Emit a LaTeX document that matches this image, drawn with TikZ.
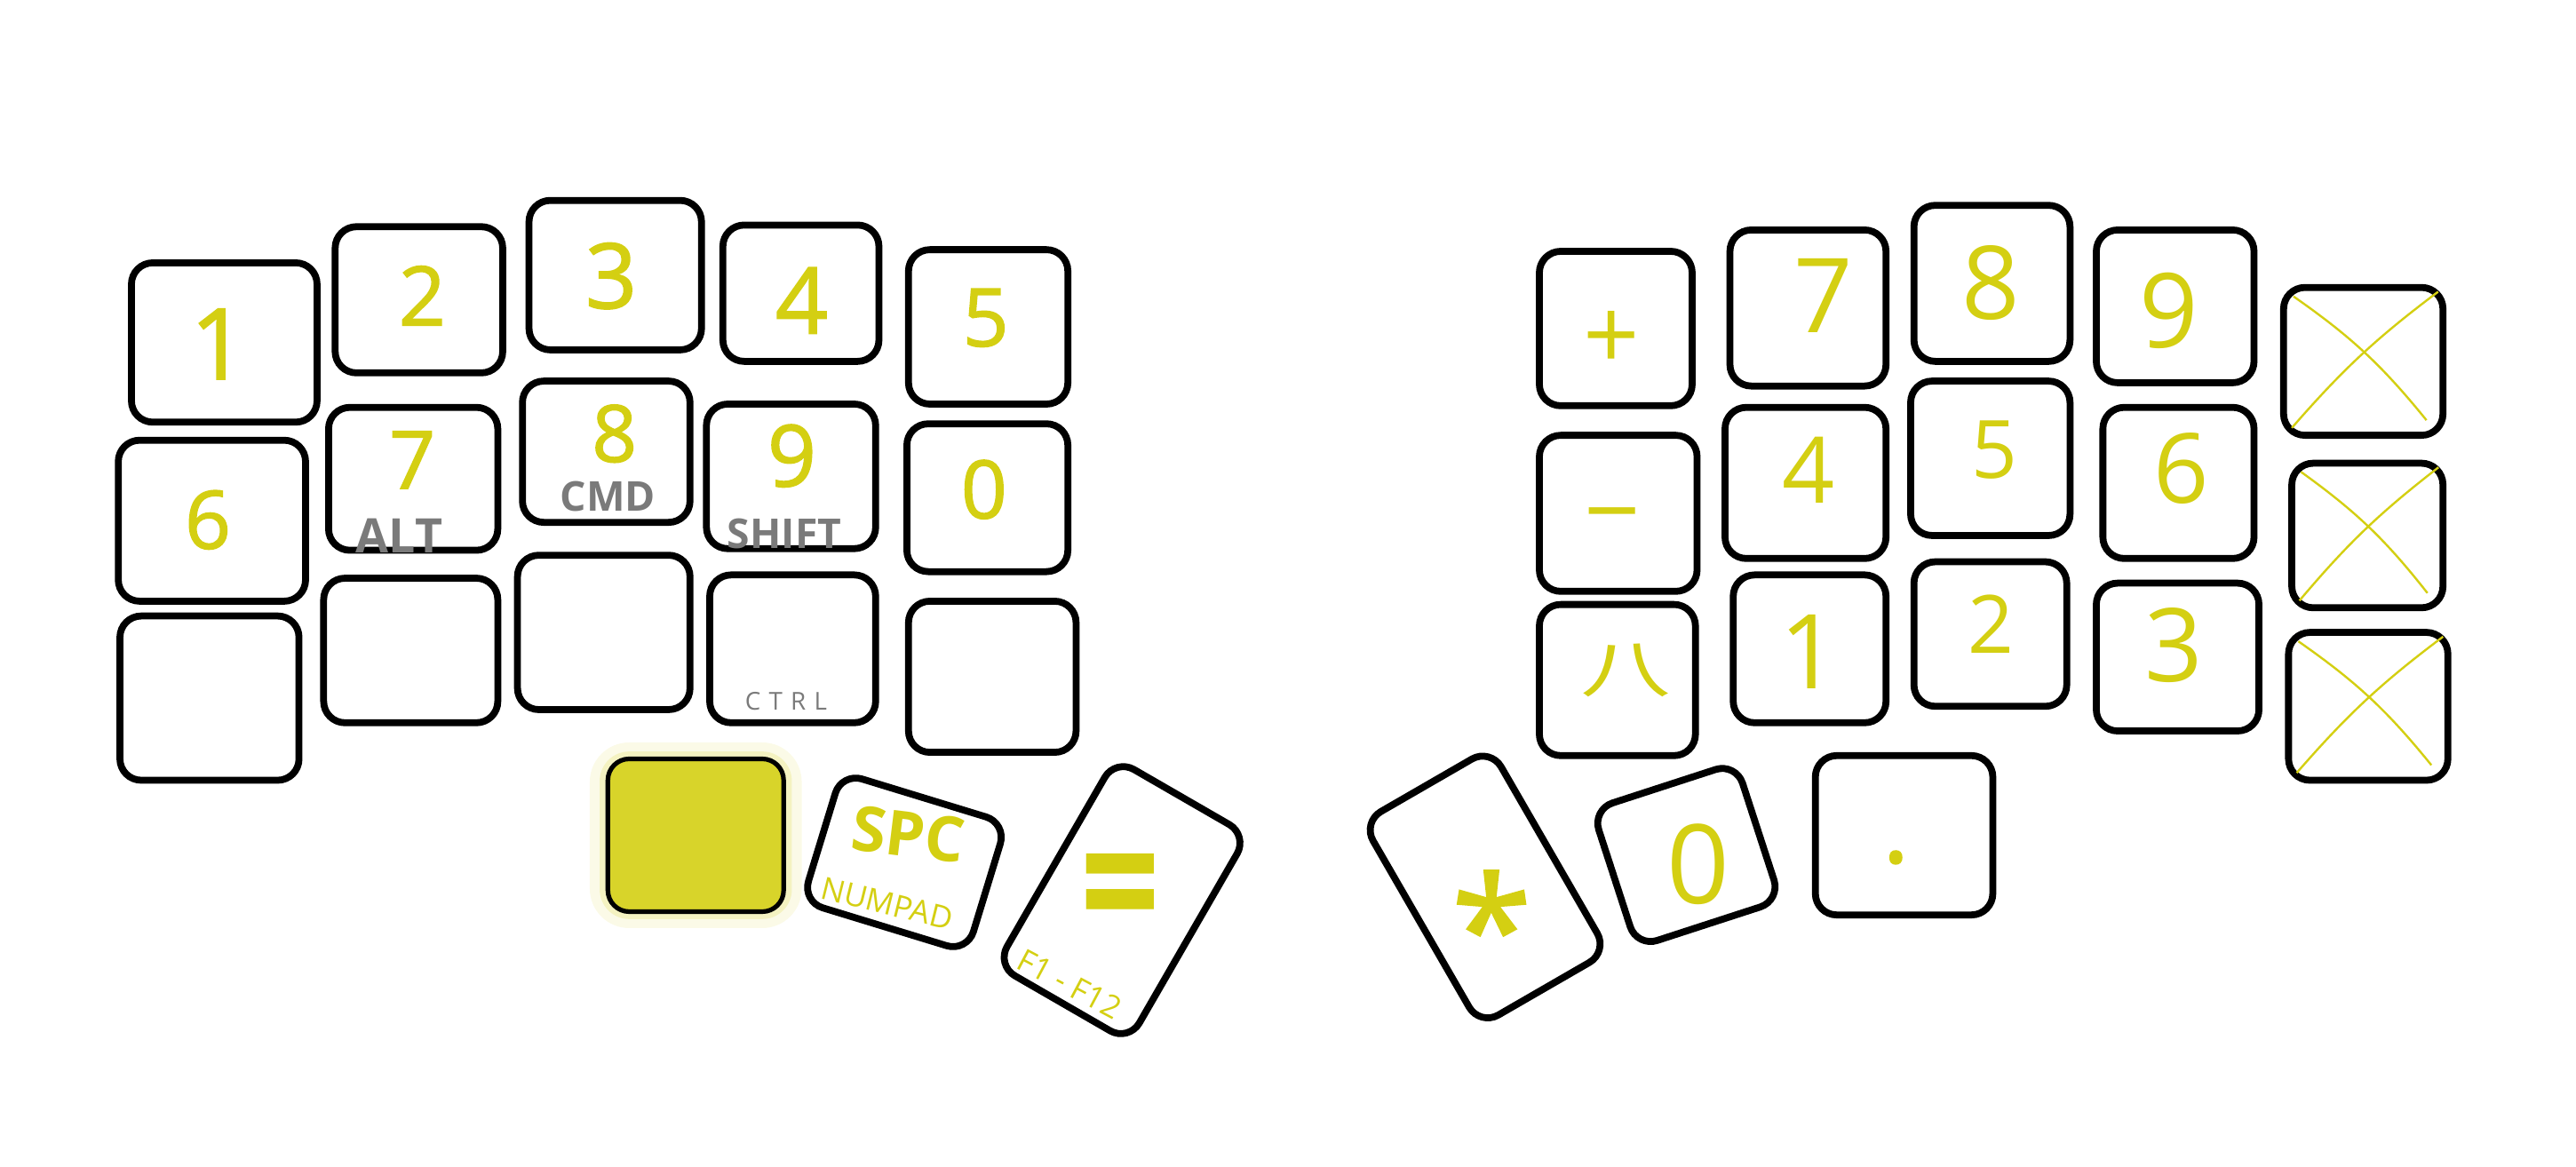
\documentclass[tikz,border=0pt]{standalone}
\usepackage{fontspec}
\setmainfont{Open Sans}
\newfontfamily\medfont[FakeBold=1.6]{Open Sans}
\newfontfamily\cjkf{Noto Sans CJK SC}
\usetikzlibrary{calc}
\definecolor{ylw}{RGB}{212,207,18}
\definecolor{mgray}{RGB}{122,122,122}
\tikzset{
  keybox/.style={draw=black, line width=4.2pt, rounded corners=13pt, rectangle, inner sep=0pt},
  numlbl/.style={text=ylw, inner sep=0pt, font=\medfont\fontsize{#1}{#1}\selectfont},
  numlbl/.default=50,
  thinlbl/.style={text=ylw, inner sep=0pt, font=\fontsize{#1}{#1}\selectfont},
  thinlbl/.default=60,
  modlbl/.style={text=mgray, inner sep=0pt, font=\bfseries\fontsize{#1}{#1}\selectfont},
  modlbl/.default=25,
  smlbl/.style={text=ylw, inner sep=0pt, font=\fontsize{#1}{#1}\selectfont},
  smlbl/.default=20,
  xmark/.style={draw=ylw, line width=1.3pt},
}
\newcommand\keyat[6][0]{\node[keybox, rotate=#1, minimum width=#5pt, minimum height=#6pt] (#2) at (#3,#4) {};}
\begin{document}
\begin{tikzpicture}[x=1pt,y=-1pt]
\useasboundingbox (0,0) rectangle (1568,710);
% ---------- left half ----------
\keyat{L1}{136.5}{208.5}{113}{97}
\keyat{L2}{255}{182.5}{102}{89}
\keyat{L3}{374.5}{167.5}{105}{91}
\keyat{L4}{487.5}{178.5}{95}{83}
\keyat{L5}{601.5}{199}{97}{94}
\keyat{L6}{129}{317}{114}{98}
\keyat{L7}{251.5}{291.5}{103}{87}
\keyat{L8}{369}{275}{102}{86}
\keyat{L9}{481.5}{290}{103}{88}
\keyat{L0}{601}{303}{98}{90}
\keyat{La}{127.5}{425}{109}{100}
\keyat{Lb}{250}{396}{106}{88}
\keyat{Lc}{367.5}{385}{105}{94}
\keyat{Ld}{482.5}{395}{101}{90}
\keyat{Le}{604}{412}{102}{92}
% thumb keys left
\node[fill=ylw, opacity=0.10, rounded corners=24pt, minimum width=129pt, minimum height=113pt] (glow1) at (423.5,508.5) {};
\node[fill=ylw, opacity=0.18, rounded corners=18pt, minimum width=117pt, minimum height=102pt] (glow2) at (423.5,508.5) {};
\node[keybox, fill=ylw!90!white, line width=2.8pt, minimum width=107pt, minimum height=93pt] (Ly) at (423.5,508.5) {};
\keyat[-17]{Lspc}{550.5}{525}{105}{82}
\keyat[-30]{Leq}{683}{548}{93}{145}
% labels left
\node[numlbl=60] (t1) at (133,209.5) {1};
\node[numlbl=50] (t2) at (257,180) {2};
\node[numlbl=55] (t3) at (372,168) {3};
\node[numlbl=56] (t4) at (488,183) {4};
\node[numlbl=49] (t5) at (600,193.5) {5};
\node[numlbl=49] (t6) at (126.5,316.5) {6};
\node[numlbl=49] (t7) at (251,280) {7};
\node[numlbl=48] (t8) at (374,264) {8};
\node[numlbl=52] (t9) at (482,277.5) {9};
\node[numlbl=49] (t0) at (599,298) {0};
\node[modlbl=29] (talt) at (243,326) {ALT};
\node[modlbl=25] (tcmd) at (370,302.5) {CMD};
\node[modlbl=25] (tshift) at (477.5,325) {SHIFT};
\node[text=mgray, inner sep=0pt, font=\fontsize{15}{15}\selectfont] (tctrl) at (478.5,427) {C\hspace{5pt}T\hspace{5pt}R\hspace{5pt}L};
\node[text=ylw, inner sep=0pt, font=\bfseries\fontsize{38}{38}\selectfont, rotate=-7] (tspc) at (553,508) {SPC};
\node[smlbl=19, rotate=-14] (tnum) at (540,550) {NUMPAD};
\node[text=ylw, inner sep=0pt, anchor=base, yscale=1.35, font=\bfseries\fontsize{85}{85}\selectfont] (teq) at (682,577) {=};
\node[smlbl=19, rotate=-28] (tfn) at (651,599) {F1\hspace{5pt}-\hspace{5pt}F12};
% ---------- right half ----------
\keyat{Rp}{983.5}{200}{93}{94}
\keyat{R7}{1100.5}{187.5}{95}{95}
\keyat{R8}{1212.5}{172.5}{95}{95}
\keyat{R9}{1324}{186.5}{96}{93}
\keyat{Rx1}{1438.5}{220}{97}{90}
\keyat{Rm}{985}{312.5}{96}{95}
\keyat{R4}{1099}{294}{98}{92}
\keyat{R5}{1211.5}{279}{97}{94}
\keyat{R6}{1326}{294}{92}{92}
\keyat{Rx2}{1441}{326}{92}{88}
\keyat{Rc}{984.5}{414}{95}{92}
\keyat{R1}{1101.5}{395}{93}{90}
\keyat{R2}{1211.5}{386}{93}{88}
\keyat{R3}{1325.5}{400}{99}{90}
\keyat{Rx3}{1441.5}{430}{97}{90}
% thumb keys right
\keyat[30]{Rst}{904}{540}{90}{143}
\keyat[18]{Rz}{1026.5}{520.5}{92}{88}
\keyat{Rdot}{1159}{508.5}{108}{97}
% labels right
\node[thinlbl=60, anchor=base] (sp) at (981,225) {+};
\node[thinlbl=63] (s7) at (1110,180) {7};
\node[thinlbl=62] (s8) at (1212,172) {8};
\node[thinlbl=63] (s9) at (1320,189) {9};
\node[thinlbl=60, anchor=base] (sm) at (981.5,332) {−};
\node[thinlbl=56] (s4) at (1101,286) {4};
\node[thinlbl=49] (s5) at (1214,274) {5};
\node[thinlbl=59] (s6) at (1328,285) {6};
\node[text=ylw, inner sep=0pt, yscale=0.7, font=\cjkf\fontsize{55}{55}\selectfont] (sc) at (989.5,408) {八};
\node[thinlbl=63] (s1) at (1101,397) {1};
\node[thinlbl=49] (s2) at (1212,380) {2};
\node[thinlbl=62] (s3) at (1323,393) {3};
\node[numlbl=88, anchor=base] (sst) at (908,597) {*};
\node[thinlbl=67] (sz) at (1034,526) {0};
\node[numlbl=60] (sdot) at (1154,522) {.};
% X marks
\foreach \k in {Rx1,Rx2,Rx3}{
  \draw[xmark] ($(\k.north west)!0.08!(\k.south east)$) to[bend left=8] ($(\k.north west)!0.88!(\k.south east)$);
  \draw[xmark] ($(\k.north east)!0.05!(\k.south west)$) to[bend right=6] ($(\k.north east)!0.93!(\k.south west)$);
}
\end{tikzpicture}
\end{document}
